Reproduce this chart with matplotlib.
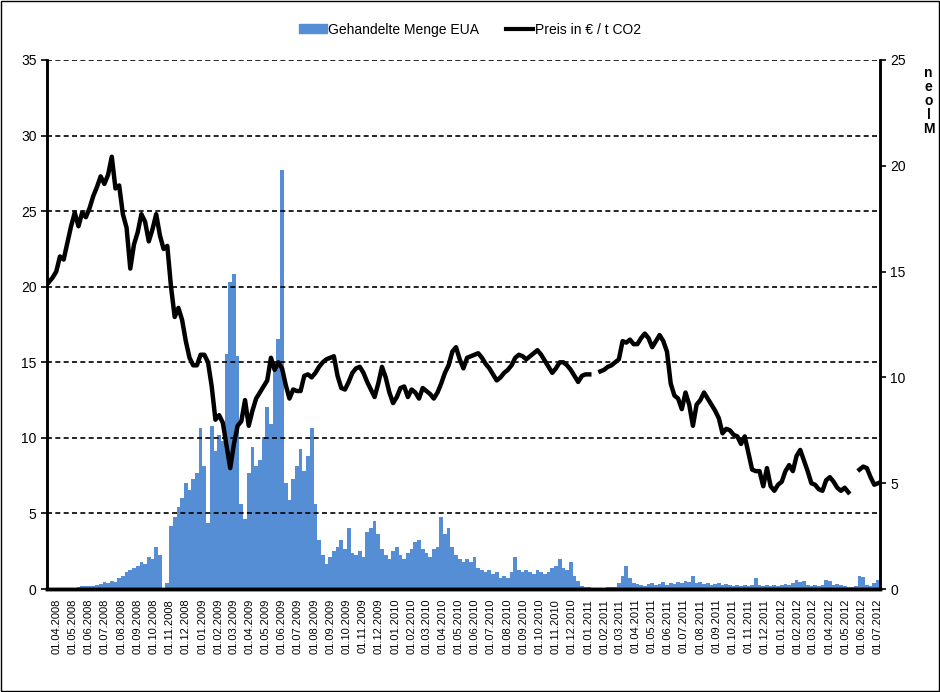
import numpy as np
import pandas as pd
import matplotlib
matplotlib.use("Agg")
import matplotlib.pyplot as plt
import matplotlib.dates as mdates
from matplotlib.patches import Rectangle
from matplotlib.lines import Line2D

plt.rcParams.update({
    "font.family": ["Liberation Sans", "DejaVu Sans"],
    "font.size": 10,
})

# wöchentliche Werte ab 17.03.2008
weeks = pd.date_range("2008-03-17", periods=225, freq="7D")

# Preis in EUR / t CO2 (linke Achse), NaN = keine Notierung
price = [
    20.3, 20.6, 21.0, 22.0, 21.8, 22.9, 24.0, 24.9, 24.0, 24.9,
    24.6, 25.2, 26.0, 26.6, 27.3, 26.8, 27.4, 28.6, 26.5, 26.7,
    24.8, 23.9, 21.2, 22.8, 23.6, 24.8, 24.3, 23.0, 23.8, 24.8,
    23.4, 22.5, 22.7, 20.0, 18.0, 18.6, 17.8, 16.4, 15.3, 14.8,
    14.8, 15.5, 15.5, 15.0, 13.4, 11.2, 11.5, 11.0, 9.5, 8.0,
    9.6, 10.8, 11.1, 12.5, 10.8, 11.8, 12.6, 13.0, 13.4, 13.8,
    15.3, 14.5, 15.0, 14.6, 13.5, 12.6, 13.2, 13.1, 13.1, 14.1,
    14.2, 14.0, 14.3, 14.7, 15.0, 15.2, 15.3, 15.4, 14.1, 13.3,
    13.2, 13.7, 14.3, 14.6, 14.7, 14.3, 13.7, 13.2, 12.7, 13.6,
    14.7, 14.0, 13.0, 12.3, 12.7, 13.3, 13.4, 12.7, 13.2, 13.0,
    12.6, 13.3, 13.1, 12.9, 12.6, 13.0, 13.6, 14.3, 14.8, 15.7,
    16.0, 15.2, 14.6, 15.3, 15.4, 15.5, 15.6, 15.3, 14.9, 14.6,
    14.2, 13.8, 14.0, 14.3, 14.5, 14.8, 15.3, 15.5, 15.4, 15.2,
    15.4, 15.6, 15.8, 15.5, 15.1, 14.7, 14.3, 14.6, 15.0, 15.0,
    14.8, 14.5, 14.1, 13.7, 14.1, 14.2, 14.2, np.nan, np.nan, 14.4,
    14.5, 14.7, 14.8, 15.0, 15.2, 16.4, 16.3, 16.5, 16.2, 16.2,
    16.6, 16.9, 16.6, 16.0, 16.4, 16.8, 16.4, 15.7, 13.6, 12.8,
    12.6, 11.9, 13.0, 12.2, 10.8, 12.2, 12.5, 13.0, 12.6, 12.2,
    11.8, 11.3, 10.3, 10.6, 10.5, 10.2, 10.1, 9.6, 10.1, 9.0,
    7.9, 7.8, 7.8, 6.8, 8.0, 6.8, 6.5, 6.9, 7.1, 7.8,
    8.2, 7.8, 8.8, 9.2, 8.5, 7.8, 7.0, 6.9, 6.6, 6.5,
    7.2, 7.4, 7.1, 6.7, 6.5, 6.7, 6.4, np.nan, np.nan, 7.9,
    8.1, 8.0, 7.4, 6.9, 7.0,
]

# gehandelte Menge EUA in Mio. (rechte Achse)
volume = [
    0, 0, 0, 0, 0, 0, 0, 0.05, 0.1, 0.12,
    0.12, 0.15, 0.12, 0.2, 0.25, 0.35, 0.3, 0.4, 0.35, 0.5,
    0.6, 0.8, 0.9, 1.0, 1.1, 1.3, 1.2, 1.5, 1.4, 2.0,
    1.6, 0.0, 0.3, 3.0, 3.4, 3.9, 4.3, 5.0, 4.7, 5.2,
    5.5, 7.6, 5.8, 3.1, 7.7, 6.5, 7.3, 7.0, 11.1, 14.5,
    14.9, 11.0, 4.0, 3.3, 5.5, 6.7, 5.8, 6.1, 7.2, 8.6,
    7.8, 10.5, 11.8, 19.8, 5.0, 4.2, 5.2, 5.8, 6.6, 5.6,
    6.3, 7.6, 4.0, 2.3, 1.6, 1.2, 1.5, 1.8, 2.0, 2.3,
    1.9, 2.9, 1.7, 1.6, 1.8, 1.5, 2.7, 2.9, 3.2, 2.6,
    1.9, 1.6, 1.4, 1.8, 2.0, 1.6, 1.4, 1.7, 1.9, 2.2,
    2.3, 1.9, 1.7, 1.5, 1.9, 2.0, 3.4, 2.6, 2.9, 2.0,
    1.6, 1.4, 1.3, 1.4, 1.3, 1.5, 1.0, 0.9, 0.8, 0.9,
    0.7, 0.8, 0.5, 0.6, 0.5, 0.8, 1.5, 0.9, 0.8, 0.9,
    0.8, 0.7, 0.9, 0.8, 0.7, 0.8, 1.0, 1.1, 1.4, 1.0,
    0.9, 1.3, 0.6, 0.4, 0.15, 0.1, 0.1, 0.05, 0.0, 0.05,
    0.05, 0.08, 0.1, 0.08, 0.3, 0.6, 1.1, 0.5, 0.3, 0.25,
    0.2, 0.15, 0.25, 0.3, 0.2, 0.25, 0.35, 0.2, 0.3, 0.25,
    0.35, 0.3, 0.4, 0.35, 0.6, 0.3, 0.35, 0.25, 0.3, 0.2,
    0.25, 0.3, 0.2, 0.25, 0.2, 0.15, 0.2, 0.15, 0.2, 0.15,
    0.2, 0.5, 0.2, 0.15, 0.2, 0.15, 0.2, 0.15, 0.2, 0.25,
    0.2, 0.3, 0.45, 0.35, 0.4, 0.2, 0.15, 0.2, 0.15, 0.2,
    0.45, 0.4, 0.2, 0.25, 0.2, 0.15, 0.1, 0.1, 0.15, 0.6,
    0.55, 0.2, 0.15, 0.3, 0.45,
]

BLUE = "#558ed5"

fig = plt.figure(figsize=(9.4, 6.92), dpi=100)
ax = fig.add_axes([0.05, 0.1488, 0.886, 0.7645])
ax2 = ax.twinx()

# Balken (rechte Achse)
ax2.bar(weeks, volume, width=7.0, color=BLUE, linewidth=0)
ax2.set_ylim(0, 25)
ax2.set_yticks(np.arange(0, 26, 5))

# Preis + Gitter (linke Achse, oben)
ax.set_zorder(ax2.get_zorder() + 1)
ax.patch.set_visible(False)
ax.plot(weeks, price, color="black", lw=3.2, solid_joinstyle="round")
ax.set_ylim(0, 35)
ax.set_yticks(np.arange(0, 36, 5))
for v in range(5, 36, 5):
    ax.axhline(v, color="black", lw=1.2, ls=(0, (3, 2)), zorder=0)

ax.set_xlim(weeks[0] - pd.Timedelta(days=3.5), weeks[-1] + pd.Timedelta(days=3.5))
ax.xaxis.set_major_locator(mdates.MonthLocator())
ax.xaxis.set_major_formatter(mdates.DateFormatter("%d.%m.%Y"))
for lab in ax.get_xticklabels():
    lab.set_rotation(90)
    lab.set_fontsize(8)
ax.tick_params(axis="x", length=0, pad=7)
ax.tick_params(axis="y", length=4, width=1.2, labelsize=10)
ax2.tick_params(axis="y", length=4, width=1.2, labelsize=10)

for a in (ax, ax2):
    a.spines["top"].set_visible(False)
    a.spines["left"].set_linewidth(1.8)
    a.spines["right"].set_linewidth(1.8)
    a.spines["bottom"].set_linewidth(2.5)

# Achsentitel rechts (gestapelt)
fig.text(0.988, 0.905, "n\ne\no\nl\nM", ha="center", va="top", fontsize=10,
         fontweight="bold", linespacing=1.0)

# Legende
handles = [
    Rectangle((0, 0), 1, 1, color=BLUE),
    Line2D([], [], color="black", lw=3),
]
fig.legend(handles, ["Gehandelte Menge EUA", "Preis in € / t CO2"],
           loc="center", bbox_to_anchor=(0.5, 0.957), ncol=2, frameon=False,
           handlelength=2.0, handleheight=0.6, handletextpad=0.1,
           columnspacing=1.9, fontsize=10)

# Rahmen um die Grafik
fig.patches.append(Rectangle((0.001, 0.001), 0.998, 0.998, transform=fig.transFigure,
                             fill=False, edgecolor="black", lw=1))

fig.savefig("out.png", dpi=100)
